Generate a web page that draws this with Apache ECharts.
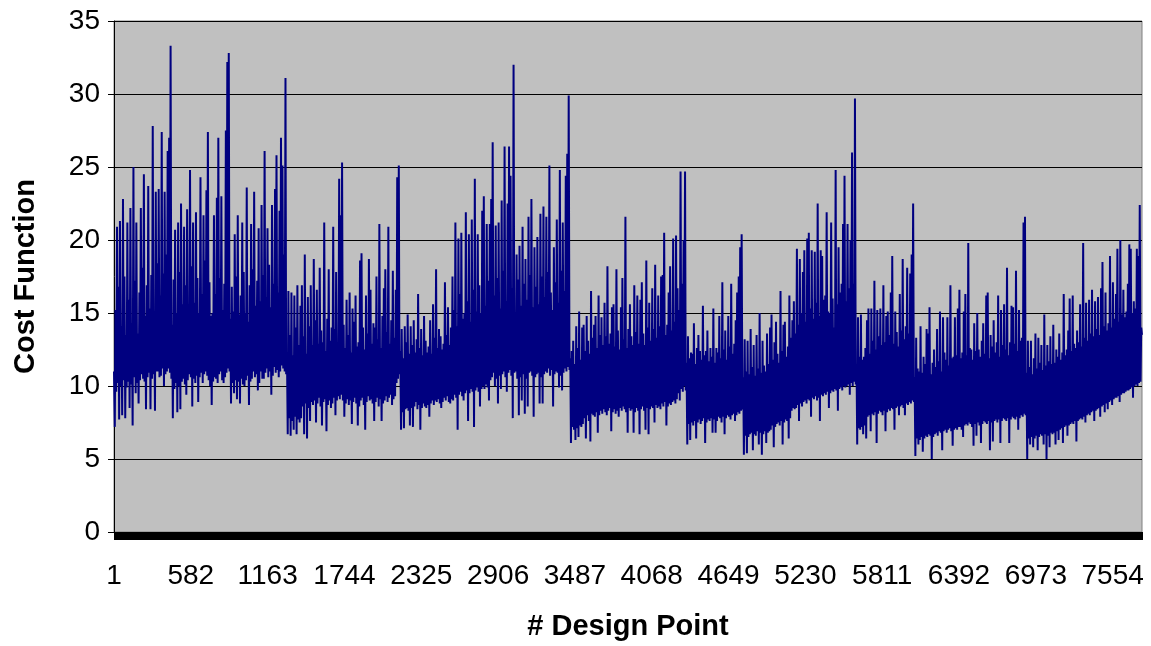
<!DOCTYPE html>
<html><head><meta charset="utf-8">
<script src="https://cdn.jsdelivr.net/npm/echarts@6/dist/echarts.min.js"></script>
<style>html,body{margin:0;padding:0;background:#fff}#c{width:1151px;height:646px}</style>
</head><body><div id="c"></div>
<script>
const N_POINTS = 7776;          // design points on the category axis
const LABEL_EVERY = 581;        // 1, 582, 1163, ...
const Y_MIN = 0, Y_MAX = 35, Y_STEP = 5;
const X_TITLE = '# Design Point';
const Y_TITLE = 'Cost Function';

// Cost function, left to right: for each narrow slice of design points,
// the highest (hi) and lowest (lo) value the dense trace reaches in that slice.
const seg0_hi = [11.0,15.2,20.9,16.8,21.3,14.1,22.8,17.5,13.5,21.2,15.9,22.2,14.3,25.0,17.2,21.2,13.6,16.4,22.2,18.1,24.5,14.8,16.9,23.7,15.3,17.6,27.8,14.9,23.3,18.4,23.5,16.2,27.4,17.7,23.3,19.0,26.1,27.0,33.3,14.2,17.3,20.7,15.0,21.2,17.8,22.5,15.6,20.9,16.9,22.1,14.8,24.8,18.2,21.2,15.7,21.9,17.4,15.0,24.3,16.3,21.7,18.6,23.4];
const seg0_lo = [7.2,9.6,10.2,7.7,10.0,8.0,10.4,7.8,9.9,10.3,8.5,10.1,7.3,10.6,9.5,10.2,8.8,10.4,10.8,10.5,10.3,8.4,10.6,10.9,8.4,10.5,10.8,8.3,11.0,11.0,10.6,10.7,11.2,10.0,10.8,11.0,11.2,10.9,10.5,7.8,9.8,10.2,8.2,10.0,8.4,10.3,10.5,10.1,9.4,10.4,10.8,10.6,8.6,10.5,10.2,10.7,8.9,10.6,10.9,10.2,10.8,11.0,10.7];
const seg1_hi = [27.4,17.1,14.8,15.0,21.7,16.3,22.9,27.0,17.4,23.0,15.2,17.0,27.5,32.2,32.8,14.6,16.8,15.1,20.4,17.5,21.7,14.9,16.2,21.2,17.8,15.0,23.6,14.4,16.9,21.1,18.0,23.3,15.5,17.2,20.8,15.8,22.4,17.6,26.1,16.1,20.8,18.3,15.4,22.4,17.0,23.5,25.8,16.4,22.0,27.0,25.1,19.0,31.1,12.3,16.5,13.5,16.4,12.1,16.2,14.0,16.9,12.8,15.5];
const seg1_lo = [10.4,10.0,8.7,10.3,10.6,10.5,10.2,10.8,11.0,10.4,10.2,10.6,10.9,11.2,11.0,8.8,10.2,9.5,10.4,9.1,10.3,8.8,10.5,10.1,10.0,10.4,10.7,8.7,10.3,10.5,11.0,10.6,10.8,9.7,10.2,11.0,10.5,10.5,10.9,11.2,10.6,11.0,9.4,10.7,11.3,10.9,11.1,10.6,11.0,11.4,11.2,11.0,10.8,6.7,7.8,6.6,7.6,7.0,7.9,6.7,7.7,7.5,7.8];
const seg2_hi = [16.9,13.4,19.0,12.2,16.1,14.1,16.9,12.8,18.7,14.5,16.6,12.9,18.1,13.8,13.0,21.2,12.4,14.6,18.0,13.1,14.0,20.9,13.9,17.8,12.8,24.2,21.7,25.3,14.2,12.6,15.9,13.5,16.4,12.3,15.3,14.4,16.2,12.7,13.0,18.6,19.1,14.0,12.5,16.2,13.6,18.7,16.6,12.9,14.3,14.0,17.5,13.2,21.1,12.6,14.8,16.7,18.0,13.7,20.9,12.9,14.5,17.9,13.3];
const seg2_lo = [8.6,6.7,8.8,6.4,8.5,7.6,8.9,8.7,9.0,7.5,8.8,9.2,8.6,7.3,8.9,9.1,6.9,8.7,9.0,8.5,8.8,9.2,8.0,9.0,9.3,9.1,9.4,9.0,7.9,8.8,9.1,8.7,9.0,7.4,8.9,9.2,8.8,7.3,8.6,9.0,9.2,8.7,7.0,8.9,9.3,9.0,9.1,8.8,7.6,8.9,9.2,8.6,9.1,7.6,8.8,9.0,9.3,8.9,9.2,9.4,8.7,9.1,9.3];
const seg3_hi = [16.6,24.3,25.1,12.4,13.9,11.9,14.1,13.0,14.9,12.2,14.1,12.8,14.5,12.3,13.2,16.3,12.6,13.9,12.1,14.8,13.1,12.3,12.7,14.5,12.2,15.6,13.3,18.0,12.6,13.9,13.4,12.5,12.9,17.1,13.5,15.4,12.8,14.0,17.5,15.2,21.2,14.1,20.1,16.3,20.5,14.6,15.0,21.9,15.8,20.4,14.4,21.4,16.6,24.2,15.1,20.4,16.9,15.0,22.0,23.0,15.5,21.1,17.2];
const seg3_lo = [10.2,10.5,10.8,7.0,8.2,7.1,8.4,8.5,8.3,7.3,8.5,7.2,8.6,8.9,8.4,8.7,7.0,8.5,8.8,8.6,8.5,8.7,7.9,8.8,9.0,8.7,9.0,8.9,9.1,8.8,8.5,8.9,9.2,9.0,9.3,8.9,8.8,9.1,9.0,9.4,9.2,7.0,9.4,9.6,9.3,9.0,9.5,9.7,7.6,9.5,9.8,9.6,7.2,9.7,9.9,9.6,8.6,9.8,10.0,9.8,10.1,9.9,9.0];
const seg4_hi = [21.1,22.8,26.7,16.2,21.0,17.4,21.2,15.3,22.7,17.9,26.4,15.8,22.5,26.4,24.4,16.7,32.0,15.0,19.0,17.3,19.6,15.5,20.9,17.0,18.7,15.9,21.6,17.6,22.8,15.4,19.5,16.8,20.2,15.6,21.8,17.5,22.3,16.1,21.6,17.8,25.1,16.4,15.2,19.5,17.1,21.4,15.7,24.8,17.9,21.2,16.5,24.4,25.9,29.9,11.9,12.4,13.1,11.5,14.1,12.6,15.1,11.8,14.0];
const seg4_lo = [10.4,10.6,10.9,10.0,10.5,8.8,10.7,9.8,10.8,11.0,10.6,9.6,10.9,11.1,10.7,7.8,10.9,11.0,10.5,8.0,10.6,9.0,10.8,8.1,10.5,8.6,10.9,11.0,10.7,7.9,10.6,10.8,10.9,8.8,10.6,8.8,10.8,11.0,10.9,11.2,10.7,11.1,8.6,10.8,11.0,10.9,9.9,10.7,9.7,10.9,11.2,11.0,11.3,11.1,6.1,7.2,7.0,6.3,7.1,6.5,7.3,7.2,7.4];
const seg5_hi = [14.2,12.4,14.8,13.1,12.2,16.5,13.3,14.2,14.8,12.6,16.2,13.5,14.7,12.8,15.7,13.4,18.2,12.9,13.6,15.4,15.6,12.7,18.0,13.8,12.5,15.4,17.4,13.2,21.6,12.6,13.9,15.6,13.4,12.8,16.9,13.7,16.2,12.9,15.9,17.1,13.6,12.8,18.6,14.0,15.7,13.1,16.7,13.9,18.3,13.3,16.2,14.1,17.5,17.6,20.5,13.5,14.2,16.4,18.2,13.8,20.1,14.4,20.3];
const seg5_lo = [7.8,6.4,8.0,7.6,6.2,8.1,8.0,7.9,8.2,6.8,8.0,8.3,8.1,8.4,8.2,8.0,8.3,8.5,6.9,8.2,8.4,8.1,8.3,7.9,8.5,8.3,8.6,8.4,8.2,6.8,8.5,8.3,8.4,6.8,8.2,8.5,8.3,6.7,8.4,8.6,8.3,7.0,8.5,6.7,8.4,8.6,8.5,7.5,8.7,8.5,8.6,8.4,8.8,8.6,8.9,7.3,8.6,8.8,8.7,8.9,9.0,8.8,9.1];
const seg6_hi = [16.7,15.2,24.7,17.0,20.0,24.7,11.6,13.4,11.9,12.3,12.2,14.3,11.5,12.6,13.5,12.4,11.8,15.5,12.1,12.4,13.8,11.7,12.6,12.0,15.3,11.6,12.6,12.3,14.8,11.9,17.1,12.5,13.8,11.8,14.8,12.7,17.0,12.2,12.9,14.5,16.4,17.5,19.5,20.4,10.6,13.2,11.0,13.1,10.8,13.9,11.3,12.8,10.7,13.5,11.2,15.0,10.9,13.1,11.4,11.0,13.6,11.5,14.0];
const seg6_lo = [9.5,9.0,9.8,9.6,10.0,9.7,6.0,7.4,6.3,7.5,7.3,7.6,6.4,7.5,7.7,7.4,7.6,7.8,6.1,7.5,7.7,7.6,7.8,6.8,7.7,6.8,7.6,7.9,7.8,7.5,7.9,6.7,7.8,8.0,7.9,7.7,8.0,8.1,7.6,8.0,8.2,8.1,8.3,8.4,5.3,6.6,5.4,6.5,6.7,6.8,5.6,6.7,6.6,6.9,6.0,6.8,5.3,6.7,6.9,6.1,6.8,6.9,7.0];
const seg7_hi = [14.9,11.8,13.0,14.4,12.2,11.6,16.5,12.4,14.2,14.4,12.0,12.7,16.2,13.3,14.5,15.8,13.6,19.4,14.2,18.7,15.0,17.8,19.3,14.4,20.1,20.5,15.3,19.3,14.6,19.2,15.7,22.5,14.8,19.3,18.9,15.9,16.2,21.9,15.1,15.0,21.2,16.0,14.0,24.8,15.6,19.5,16.4,17.0,21.1,24.4,15.8,21.1,16.7,20.0,26.0,17.0,29.7,11.5,14.7,12.0,14.9,11.8,12.0];
const seg7_lo = [7.3,5.8,7.2,7.4,7.5,7.3,7.6,6.0,7.5,7.7,7.6,6.4,7.8,8.3,8.5,8.4,8.5,8.7,7.6,8.8,8.6,8.9,9.0,8.8,9.1,9.0,7.9,9.2,9.1,9.3,9.0,9.2,7.6,9.4,9.3,9.5,9.4,9.6,8.5,9.5,9.7,9.6,9.8,9.7,8.3,9.8,9.9,9.7,10.0,9.9,10.0,10.1,9.4,10.2,10.0,10.3,10.1,6.0,7.1,7.0,7.2,6.7,7.3];
const seg8_hi = [12.6,14.5,15.3,12.2,15.3,13.1,17.2,12.5,15.2,13.4,15.3,12.8,16.9,13.0,14.8,15.1,13.5,16.4,18.9,12.9,15.1,13.7,12.7,16.3,13.8,18.7,13.2,14.1,18.1,13.6,17.7,19.0,22.5,10.6,13.3,11.2,11.0,14.1,10.9,12.0,11.5,13.9,13.6,15.4,10.8,11.6,12.5,11.3,13.9,11.7,15.1,11.0,14.7,12.3,11.8,14.7,11.4,16.9,11.9,12.0,14.7,12.1,15.3];
const seg8_lo = [6.4,7.9,8.0,6.9,8.1,8.0,8.2,6.1,8.1,8.3,8.2,8.0,8.3,6.9,8.2,8.4,8.3,8.5,8.4,7.0,8.5,8.6,8.0,8.6,8.7,8.5,8.0,8.8,8.7,8.9,8.8,9.0,8.9,5.2,6.4,6.0,6.3,6.5,5.5,6.4,6.6,6.5,6.7,6.6,5.0,6.5,6.7,6.8,6.6,6.9,6.8,5.6,6.9,7.0,6.8,7.0,7.1,6.9,5.9,7.0,7.1,7.0,7.2];
const seg9_hi = [16.6,11.9,12.3,15.1,16.3,12.1,19.8,12.6,12.5,11.8,14.3,12.4,15.0,12.5,12.0,13.1,14.3,12.2,16.2,16.4,11.9,13.5,12.7,14.5,12.3,13.0,16.2,12.0,15.2,12.8,15.6,12.5,18.1,12.1,13.0,15.5,15.4,12.9,17.9,12.4,15.2,13.1,13.3,21.2,21.6,10.9,13.1,11.3,13.1,10.8,11.9,13.6,11.2,13.3,11.6,12.8,11.1,14.9,11.4,12.8,11.7,13.4,11.5];
const seg9_lo = [7.2,7.0,6.5,7.3,7.4,7.3,7.5,7.4,7.2,5.9,7.4,6.6,7.5,7.3,6.1,7.4,7.6,7.5,7.4,7.6,5.6,7.5,6.2,7.6,7.7,7.5,7.7,6.1,7.6,7.8,7.7,7.6,7.8,6.1,7.7,7.9,7.8,7.7,7.9,7.0,7.8,8.0,7.9,8.1,8.0,5.0,6.4,6.0,6.5,5.8,6.4,6.6,5.6,6.5,6.7,6.6,6.0,6.7,5.0,6.6,5.8,6.8,6.7];
const seg10_hi = [14.2,11.6,12.5,12.0,13.6,11.8,12.3,16.3,12.1,12.5,13.8,16.0,12.4,16.2,12.9,12.6,13.8,13.0,15.6,12.7,19.8,13.3,15.7,13.1,15.9,13.6,16.6,13.4,15.8,13.9,16.1,13.5,16.7,18.5,14.1,16.4,13.8,14.3,18.9,14.0,17.1,14.6,16.3,19.4,14.4,20.0,14.9,16.6,14.7,15.1,17.0,19.7,19.4,15.0,15.8,15.3,19.4,18.9,22.4,14.0];
const seg10_lo = [6.8,6.0,6.9,6.3,7.0,7.1,6.1,7.2,7.3,6.6,7.3,7.4,7.5,7.4,7.6,6.2,7.6,7.7,7.8,7.7,7.9,7.5,8.0,8.1,8.0,8.2,8.3,7.6,8.3,8.4,8.5,7.9,8.6,8.7,8.2,8.8,8.4,8.9,9.0,8.7,9.1,9.2,9.2,9.3,8.9,9.4,9.5,9.5,9.6,9.7,9.7,9.8,9.9,9.2,10.0,10.1,10.0,10.2,10.3,13.5];

const HI = [].concat(seg0_hi, seg1_hi, seg2_hi, seg3_hi, seg4_hi, seg5_hi, seg6_hi, seg7_hi, seg8_hi, seg9_hi, seg10_hi);
const LO = [].concat(seg0_lo, seg1_lo, seg2_lo, seg3_lo, seg4_lo, seg5_lo, seg6_lo, seg7_lo, seg8_lo, seg9_lo, seg10_lo);
const trace = [];
HI.forEach((h, j) => { trace.push(h); trace.push(LO[j]); });

const categories = Array.from({length: N_POINTS}, (_, i) => String(i + 1));
const seriesData = trace.map((v, m) => [Math.round(m * (N_POINTS - 1) / (trace.length - 1)), v]);

const FONT = "'Liberation Sans', Arial, sans-serif";
const chart = echarts.init(document.getElementById('c'), null, {renderer: 'canvas'});
chart.setOption({
  animation: false,
  backgroundColor: '#ffffff',
  grid: {left: 114, right: 9, top: 21, bottom: 109, show: true, backgroundColor: '#C0C0C0', borderColor: '#808080', borderWidth: 1},
  xAxis: {
    type: 'category', data: categories, boundaryGap: false,
    name: X_TITLE, nameLocation: 'middle', nameGap: 80,
    nameTextStyle: {fontFamily: FONT, fontSize: 29, fontWeight: 'bold', color: '#000'},
    axisLine: {show: true, lineStyle: {color: '#000', width: 1}},
    axisTick: {show: true, interval: 0, length: 8, lineStyle: {color: '#000', width: 1}},
    axisLabel: {interval: (i) => i % LABEL_EVERY === 0, margin: 30, fontFamily: FONT, fontSize: 28, color: '#000'},
    splitLine: {show: false}
  },
  yAxis: {
    type: 'value', min: Y_MIN, max: Y_MAX, interval: Y_STEP,
    name: Y_TITLE, nameLocation: 'middle', nameGap: 74, nameRotate: 90,
    nameTextStyle: {fontFamily: FONT, fontSize: 29, fontWeight: 'bold', color: '#000'},
    axisLine: {show: true, lineStyle: {color: '#000', width: 1}},
    axisTick: {show: true, length: 6, lineStyle: {color: '#000'}},
    axisLabel: {margin: 14, fontFamily: FONT, fontSize: 28, color: '#000'},
    splitLine: {show: true, lineStyle: {color: '#000', width: 1}}
  },
  series: [{
    type: 'line', data: seriesData, showSymbol: false, symbol: 'none',
    sampling: null, lineStyle: {color: '#000080', width: 2}, z: 3
  }]
});
</script></body></html>
